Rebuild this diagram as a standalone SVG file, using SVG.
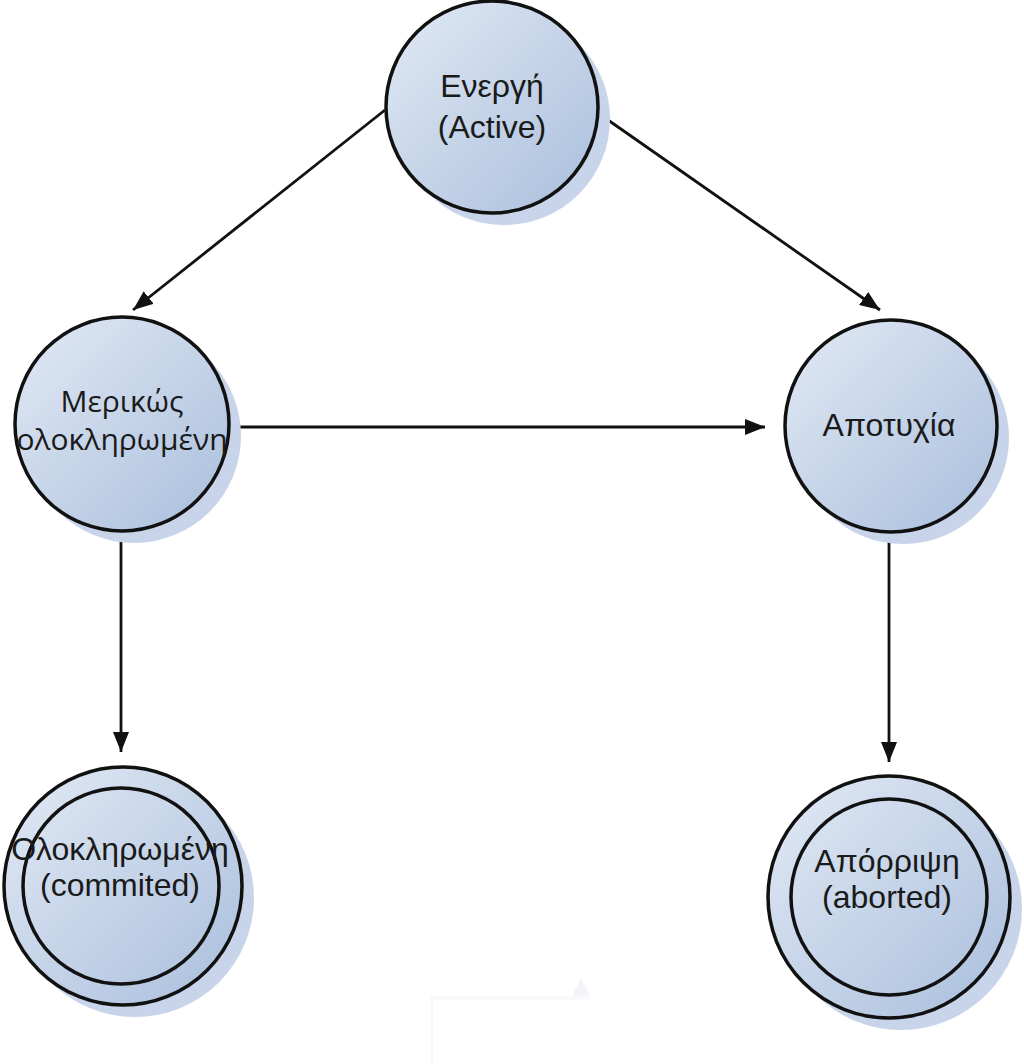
<svg xmlns="http://www.w3.org/2000/svg" width="1024" height="1064" viewBox="0 0 1024 1064">
<defs>
<linearGradient id="g" x1="0" y1="0" x2="1" y2="1">
<stop offset="0" stop-color="#e2eaf5"/>
<stop offset="1" stop-color="#a9bedc"/>
</linearGradient>
<marker id="arr" viewBox="0 0 20 16" refX="20" refY="8" markerWidth="20" markerHeight="16" markerUnits="userSpaceOnUse" orient="auto">
<path d="M0,0 L20,8 L0,16 z" fill="#111"/>
</marker>
<style>
.sh{fill:#c8d4ea}
.c{fill:url(#g);stroke:#111;stroke-width:3.5}
.ci{fill:none;stroke:#111;stroke-width:3.5}
.t{font-family:"Liberation Sans",Arial,sans-serif;font-size:32px;fill:#1a1a1a;text-anchor:middle}
.tc{font-family:"Open Sans","Noto Sans",sans-serif;font-size:30px;fill:#1a1a1a;text-anchor:middle}
.e{fill:none;stroke:#111;stroke-width:2.8}
</style>
</defs>
<g id="faint">
<path d="M432,1064 V998 H590" fill="none" stroke="#f8f8fa" stroke-width="3"/>
<path d="M572,996 L581,978 L590,996 z" fill="#f3f3f8"/>
</g>
<g id="connectors">
<line class="e" x1="385" y1="110" x2="133" y2="310" marker-end="url(#arr)"/>
<line class="e" x1="598" y1="113" x2="880" y2="310" marker-end="url(#arr)"/>
<line class="e" x1="230" y1="427" x2="765" y2="427" marker-end="url(#arr)"/>
<line class="e" x1="121" y1="532" x2="121" y2="752" marker-end="url(#arr)"/>
<line class="e" x1="889" y1="533" x2="889" y2="762" marker-end="url(#arr)"/>
</g>
<g id="active">
<circle class="sh" cx="504" cy="119" r="106"/>
<circle class="c" cx="492" cy="107" r="106"/>
<text class="t" x="492" y="97">Ενεργή</text>
<text class="t" x="492" y="138">(Active)</text>
</g>
<g id="partial">
<circle class="sh" cx="134" cy="436" r="107"/>
<circle class="c" cx="122" cy="424" r="107"/>
<text class="tc" x="122" y="412">Μερικώς</text>
<text class="tc" x="122" y="450">ολοκληρωμένη</text>
</g>
<g id="failed">
<circle class="sh" cx="903" cy="438" r="106"/>
<circle class="c" cx="891" cy="426" r="106"/>
<text class="t" x="889" y="436">Αποτυχία</text>
</g>
<g id="committed">
<circle class="sh" cx="135" cy="898" r="119"/>
<circle class="c" cx="123" cy="886" r="119"/>
<circle class="ci" cx="121" cy="886" r="98"/>
<text class="t" x="120" y="860">Ολοκληρωμένη</text>
<text class="t" x="120" y="896">(commited)</text>
</g>
<g id="aborted">
<circle class="sh" cx="901" cy="909" r="121"/>
<circle class="c" cx="889" cy="897" r="121"/>
<circle class="ci" cx="889" cy="897" r="98"/>
<text class="t" x="887" y="872">Απόρριψη</text>
<text class="t" x="887" y="908">(aborted)</text>
</g>
</svg>
